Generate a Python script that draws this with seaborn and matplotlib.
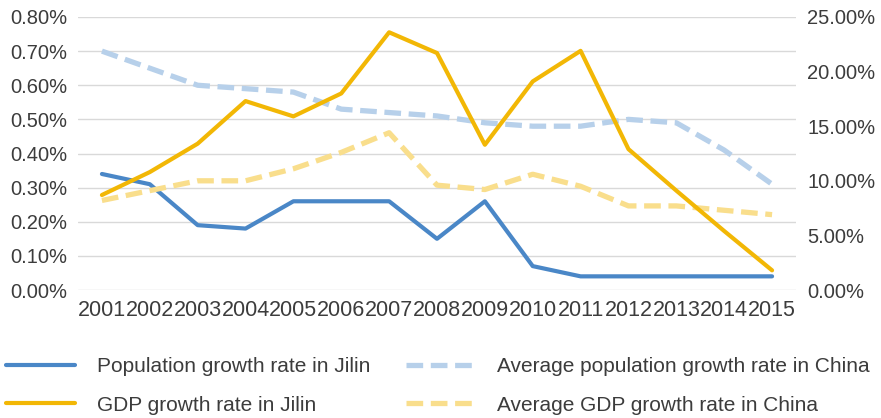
import matplotlib
matplotlib.use("Agg")
import matplotlib.pyplot as plt
import matplotlib.ticker as mticker
from matplotlib.lines import Line2D
import seaborn as sns
import pandas as pd

years = [2001, 2002, 2003, 2004, 2005, 2006, 2007, 2008,
         2009, 2010, 2011, 2012, 2013, 2014, 2015]

# population growth rates (percent, left axis)
pop_jilin = [0.34, 0.31, 0.19, 0.18, 0.26, 0.26, 0.26, 0.15,
             0.26, 0.07, 0.04, 0.04, 0.04, 0.04, 0.04]
pop_china = [0.70, 0.65, 0.60, 0.59, 0.58, 0.53, 0.52, 0.51,
             0.49, 0.48, 0.48, 0.50, 0.49, 0.41, 0.31]

# GDP growth rates (percent, right axis)
gdp_jilin = [8.7, 10.8, 13.4, 17.3, 15.9, 18.0, 23.6, 21.7,
             13.3, 19.1, 21.9, 12.9, 9.1, 5.4, 1.8]
gdp_china = [8.2, 9.1, 10.0, 10.0, 11.1, 12.6, 14.4, 9.6,
             9.2, 10.6, 9.5, 7.7, 7.7, 7.3, 6.9]

labels = ["Population growth rate in Jilin",
          "GDP growth rate in Jilin",
          "Average population growth rate in China",
          "Average GDP growth rate in China"]

c_pop_jilin = "#4a87c7"
c_gdp_jilin = "#f2b705"
c_pop_china = "#b7d0ea"
c_gdp_china = "#f9de8c"

df = pd.DataFrame({"year": years, "pop_jilin": pop_jilin, "pop_china": pop_china,
                   "gdp_jilin": gdp_jilin, "gdp_china": gdp_china})

sns.set_theme(style="white")
plt.rcParams["font.family"] = ["Liberation Sans", "DejaVu Sans"]

fig = plt.figure(figsize=(8.81, 4.18), dpi=100)
ax = fig.add_axes([78 / 881, 1 - 290 / 418, (796 - 78) / 881, (290 - 17) / 418])
ax2 = ax.twinx()

lw_solid = 3.0
lw_dash = 3.8
dash = (0, (12.0 / lw_dash, 5.5 / lw_dash))

sns.lineplot(data=df, x="year", y="pop_china", ax=ax, color=c_pop_china,
             linewidth=lw_dash, linestyle=dash, zorder=2)
sns.lineplot(data=df, x="year", y="pop_jilin", ax=ax, color=c_pop_jilin,
             linewidth=lw_solid, zorder=3)
sns.lineplot(data=df, x="year", y="gdp_china", ax=ax2, color=c_gdp_china,
             linewidth=lw_dash, linestyle=dash, zorder=2)
sns.lineplot(data=df, x="year", y="gdp_jilin", ax=ax2, color=c_gdp_jilin,
             linewidth=lw_solid, zorder=3)

tick_color = "#3c3c3c"

ax.set_xlim(2000.5, 2015.5)
ax.set_xticks(years)
ax.set_xticklabels([str(y) for y in years], fontsize=15.5, color=tick_color)
ax.set_ylim(0, 0.8)
ax.yaxis.set_major_locator(mticker.MultipleLocator(0.1))
ax.yaxis.set_major_formatter(mticker.FuncFormatter(lambda v, p: f"{v:.2f}%"))
ax.tick_params(axis="y", labelsize=14.5, labelcolor=tick_color, length=0, pad=8)
ax.tick_params(axis="x", length=0, pad=7)
ax.grid(axis="y", color="#d9d9d9", linewidth=1.0)
ax.grid(axis="x", visible=False)
ax.set_xlabel("")
ax.set_ylabel("")

ax2.set_ylim(0, 25)
ax2.yaxis.set_major_locator(mticker.MultipleLocator(5))
ax2.yaxis.set_major_formatter(mticker.FuncFormatter(lambda v, p: f"{v:.2f}%"))
ax2.tick_params(axis="y", labelsize=14.5, labelcolor=tick_color, length=0, pad=8)
ax2.grid(False)
ax2.set_ylabel("")

for a in (ax, ax2):
    for s in a.spines.values():
        s.set_visible(False)

handles = [
    Line2D([], [], color=c_pop_jilin, linewidth=lw_solid),
    Line2D([], [], color=c_gdp_jilin, linewidth=lw_solid),
    Line2D([], [], color=c_pop_china, linewidth=lw_dash, linestyle=dash),
    Line2D([], [], color=c_gdp_china, linewidth=lw_dash, linestyle=dash),
]
fig.legend(handles, labels, loc="upper left", bbox_to_anchor=(6 / 881, 1 - 357 / 418),
           ncol=2, frameon=False, fontsize=15, handlelength=3.3, handletextpad=1.05,
           columnspacing=1.75, labelspacing=0.95, borderpad=0, borderaxespad=0,
           labelcolor=tick_color)

fig.savefig("out.png", dpi=100)
